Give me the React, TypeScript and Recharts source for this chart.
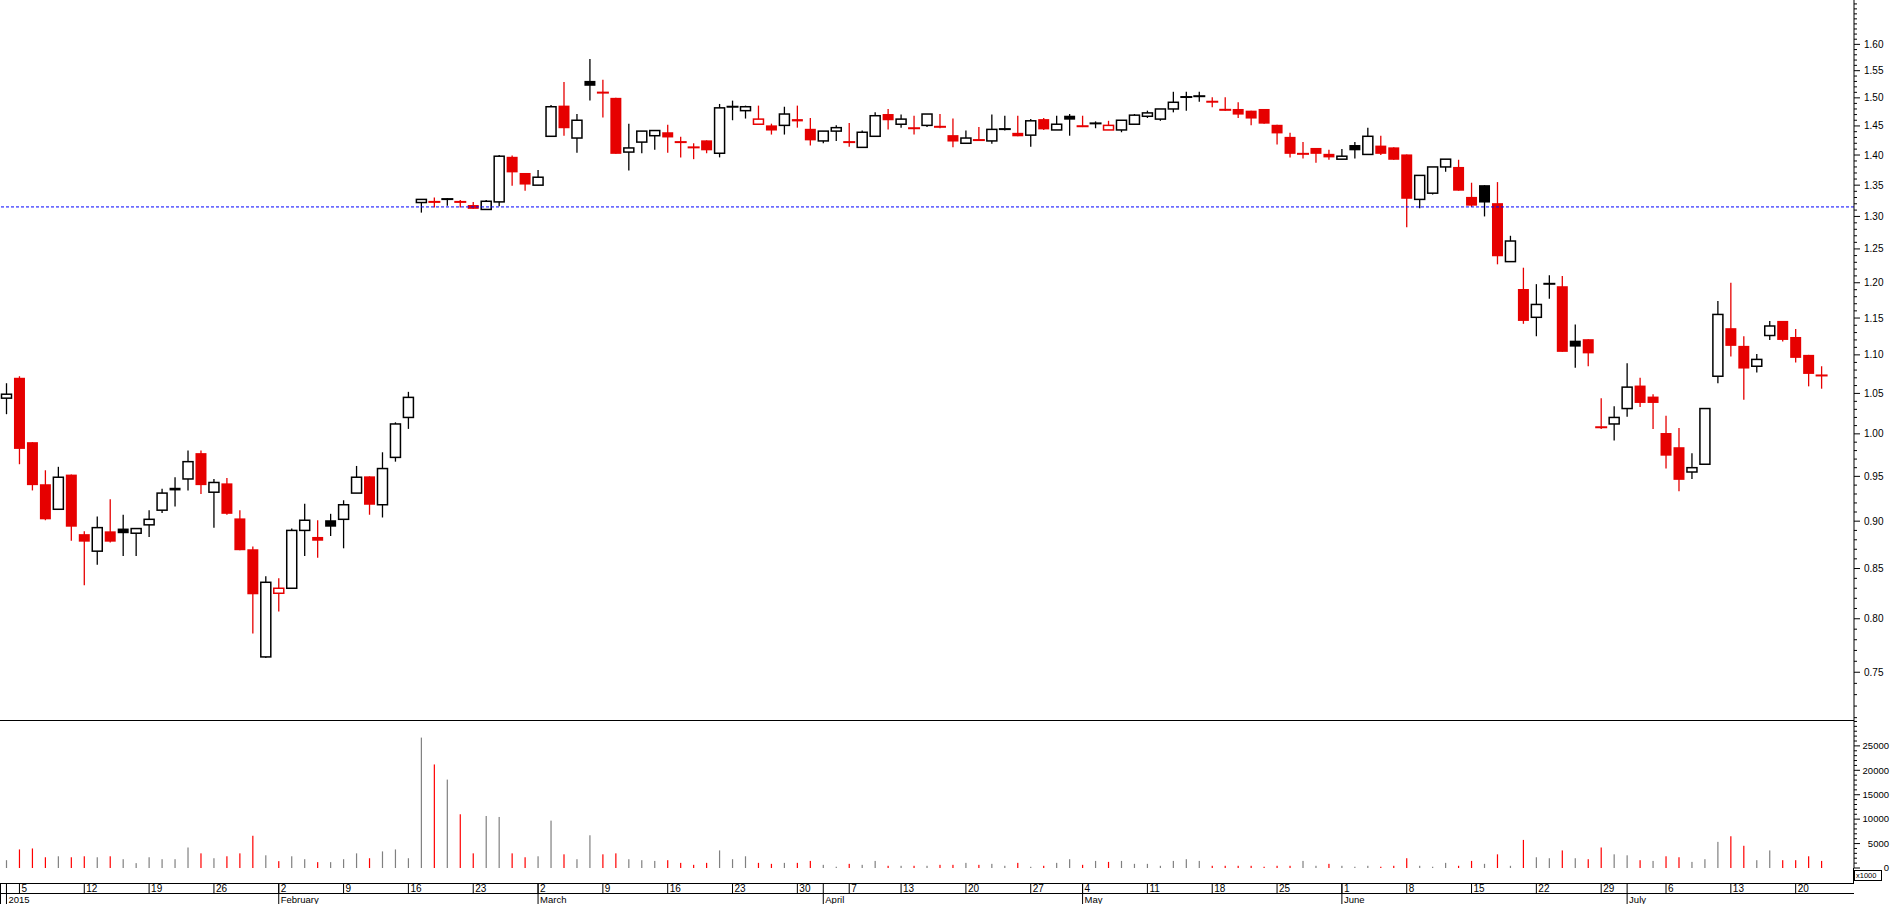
import { Bar, ComposedChart, ReferenceLine, XAxis, YAxis } from "recharts";

// trading days shown on the category axis (last two are still empty)
const tradingDays = [
  "2015-01-02", "2015-01-05", "2015-01-06", "2015-01-07", "2015-01-08", "2015-01-09", "2015-01-12", "2015-01-13",
  "2015-01-14", "2015-01-15", "2015-01-16", "2015-01-19", "2015-01-20", "2015-01-21", "2015-01-22", "2015-01-23",
  "2015-01-26", "2015-01-27", "2015-01-28", "2015-01-29", "2015-01-30",
  "2015-02-02", "2015-02-03", "2015-02-04", "2015-02-05", "2015-02-06", "2015-02-09", "2015-02-10", "2015-02-11",
  "2015-02-12", "2015-02-13", "2015-02-16", "2015-02-17", "2015-02-18", "2015-02-19", "2015-02-20", "2015-02-23",
  "2015-02-24", "2015-02-25", "2015-02-26", "2015-02-27",
  "2015-03-02", "2015-03-03", "2015-03-04", "2015-03-05", "2015-03-06", "2015-03-09", "2015-03-10", "2015-03-11",
  "2015-03-12", "2015-03-13", "2015-03-16", "2015-03-17", "2015-03-18", "2015-03-19", "2015-03-20", "2015-03-23",
  "2015-03-24", "2015-03-25", "2015-03-26", "2015-03-27", "2015-03-30", "2015-03-31",
  "2015-04-01", "2015-04-02", "2015-04-07", "2015-04-08", "2015-04-09", "2015-04-10", "2015-04-13", "2015-04-14",
  "2015-04-15", "2015-04-16", "2015-04-17", "2015-04-20", "2015-04-21", "2015-04-22", "2015-04-23", "2015-04-24",
  "2015-04-27", "2015-04-28", "2015-04-29", "2015-04-30",
  "2015-05-04", "2015-05-05", "2015-05-06", "2015-05-07", "2015-05-08", "2015-05-11", "2015-05-12", "2015-05-13",
  "2015-05-14", "2015-05-15", "2015-05-18", "2015-05-19", "2015-05-20", "2015-05-21", "2015-05-22", "2015-05-25",
  "2015-05-26", "2015-05-27", "2015-05-28", "2015-05-29",
  "2015-06-01", "2015-06-02", "2015-06-03", "2015-06-04", "2015-06-05", "2015-06-08", "2015-06-09", "2015-06-10",
  "2015-06-11", "2015-06-12", "2015-06-15", "2015-06-16", "2015-06-17", "2015-06-18", "2015-06-19", "2015-06-22",
  "2015-06-23", "2015-06-24", "2015-06-25", "2015-06-26", "2015-06-29", "2015-06-30",
  "2015-07-01", "2015-07-02", "2015-07-03", "2015-07-06", "2015-07-07", "2015-07-08", "2015-07-09", "2015-07-10",
  "2015-07-13", "2015-07-14", "2015-07-15", "2015-07-16", "2015-07-17", "2015-07-20", "2015-07-21", "2015-07-22",
  "2015-07-23", "2015-07-24",
];

const opens = [
  1.044, 1.070, 0.990, 0.941, 0.913, 0.952, 0.886, 0.868, 0.889, 0.892, 0.887, 0.896, 0.912, 0.937, 0.947, 0.977,
  0.932, 0.942, 0.903, 0.870, 0.764, 0.825, 0.830, 0.890, 0.883, 0.901, 0.902, 0.931, 0.950, 0.918, 0.972, 1.020,
  1.322, 1.323, 1.326, 1.323, 1.318, 1.311, 1.323, 1.397, 1.370, 1.350, 1.432, 1.486, 1.429, 1.531, 1.511, 1.500,
  1.405, 1.422, 1.433, 1.439, 1.422, 1.413, 1.425, 1.403, 1.485, 1.477, 1.453, 1.451, 1.451, 1.462, 1.445, 1.424,
  1.441, 1.422, 1.413, 1.432, 1.471, 1.453, 1.446, 1.451, 1.450, 1.434, 1.420, 1.424, 1.424, 1.443, 1.438, 1.434,
  1.462, 1.443, 1.468, 1.448, 1.455, 1.443, 1.443, 1.453, 1.467, 1.462, 1.480, 1.502, 1.504, 1.493, 1.480, 1.480,
  1.477, 1.480, 1.452, 1.431, 1.402, 1.412, 1.402, 1.393, 1.417, 1.401, 1.416, 1.413, 1.401, 1.327, 1.337, 1.380,
  1.380, 1.331, 1.350, 1.321, 1.231, 1.191, 1.151, 1.199, 1.195, 1.119, 1.121, 1.008, 1.012, 1.031, 1.060, 1.046,
  1.001, 0.984, 0.955, 0.964, 1.072, 1.136, 1.112, 1.085, 1.126, 1.146, 1.124, 1.100, 1.072,
];

const highs = [
  1.063, 1.072, 0.990, 0.957, 0.961, 0.952, 0.889, 0.905, 0.924, 0.907, 0.892, 0.912, 0.936, 0.949, 0.980, 0.980,
  0.947, 0.948, 0.912, 0.873, 0.842, 0.840, 0.892, 0.919, 0.901, 0.908, 0.923, 0.962, 0.950, 0.978, 1.014, 1.052,
  1.327, 1.330, 1.329, 1.326, 1.323, 1.326, 1.400, 1.399, 1.370, 1.375, 1.487, 1.529, 1.471, 1.572, 1.533, 1.500,
  1.454, 1.441, 1.442, 1.452, 1.431, 1.420, 1.425, 1.489, 1.495, 1.486, 1.486, 1.454, 1.484, 1.486, 1.464, 1.441,
  1.451, 1.455, 1.442, 1.474, 1.480, 1.470, 1.468, 1.471, 1.471, 1.463, 1.442, 1.448, 1.470, 1.468, 1.468, 1.462,
  1.464, 1.468, 1.471, 1.468, 1.458, 1.459, 1.460, 1.471, 1.477, 1.480, 1.511, 1.511, 1.511, 1.501, 1.501, 1.492,
  1.477, 1.480, 1.452, 1.438, 1.422, 1.412, 1.409, 1.410, 1.422, 1.447, 1.433, 1.413, 1.401, 1.366, 1.380, 1.393,
  1.392, 1.354, 1.350, 1.355, 1.270, 1.222, 1.198, 1.211, 1.210, 1.141, 1.121, 1.044, 1.034, 1.089, 1.070, 1.049,
  1.022, 1.007, 0.977, 1.031, 1.174, 1.200, 1.125, 1.101, 1.146, 1.146, 1.135, 1.100, 1.085,
];

const lows = [
  1.024, 0.964, 0.934, 0.901, 0.913, 0.879, 0.833, 0.854, 0.877, 0.863, 0.863, 0.883, 0.909, 0.916, 0.934, 0.930,
  0.893, 0.907, 0.869, 0.786, 0.763, 0.807, 0.830, 0.863, 0.861, 0.884, 0.871, 0.931, 0.907, 0.904, 0.967, 1.006,
  1.306, 1.314, 1.317, 1.314, 1.312, 1.311, 1.316, 1.349, 1.341, 1.350, 1.432, 1.433, 1.404, 1.495, 1.465, 1.402,
  1.374, 1.403, 1.409, 1.404, 1.396, 1.393, 1.403, 1.396, 1.460, 1.463, 1.453, 1.435, 1.435, 1.447, 1.416, 1.420,
  1.424, 1.414, 1.413, 1.432, 1.444, 1.447, 1.435, 1.448, 1.446, 1.413, 1.420, 1.424, 1.419, 1.442, 1.432, 1.414,
  1.443, 1.443, 1.433, 1.448, 1.446, 1.443, 1.439, 1.453, 1.464, 1.459, 1.474, 1.477, 1.493, 1.483, 1.477, 1.464,
  1.451, 1.454, 1.418, 1.396, 1.394, 1.387, 1.392, 1.393, 1.394, 1.401, 1.400, 1.392, 1.283, 1.313, 1.335, 1.372,
  1.341, 1.315, 1.300, 1.227, 1.231, 1.142, 1.125, 1.177, 1.104, 1.083, 1.085, 1.006, 0.992, 1.021, 1.033, 1.006,
  0.959, 0.933, 0.947, 0.964, 1.063, 1.098, 1.042, 1.077, 1.120, 1.118, 1.090, 1.059, 1.056,
];

const closes = [
  1.049, 0.982, 0.940, 0.902, 0.949, 0.894, 0.878, 0.893, 0.878, 0.887, 0.892, 0.902, 0.931, 0.934, 0.967, 0.940,
  0.943, 0.908, 0.869, 0.824, 0.836, 0.830, 0.890, 0.901, 0.879, 0.894, 0.918, 0.949, 0.918, 0.959, 1.012, 1.045,
  1.327, 1.323, 1.329, 1.323, 1.312, 1.324, 1.398, 1.371, 1.351, 1.363, 1.484, 1.446, 1.460, 1.522, 1.508, 1.402,
  1.412, 1.441, 1.442, 1.430, 1.422, 1.413, 1.408, 1.482, 1.483, 1.484, 1.462, 1.442, 1.471, 1.458, 1.425, 1.441,
  1.447, 1.422, 1.439, 1.468, 1.460, 1.462, 1.446, 1.471, 1.447, 1.423, 1.429, 1.427, 1.444, 1.446, 1.432, 1.459,
  1.444, 1.453, 1.461, 1.451, 1.454, 1.451, 1.460, 1.469, 1.473, 1.480, 1.492, 1.501, 1.502, 1.493, 1.477, 1.470,
  1.463, 1.454, 1.437, 1.402, 1.402, 1.402, 1.396, 1.398, 1.408, 1.432, 1.402, 1.392, 1.328, 1.366, 1.380, 1.393,
  1.341, 1.317, 1.322, 1.239, 1.262, 1.146, 1.169, 1.198, 1.104, 1.111, 1.102, 1.008, 1.020, 1.058, 1.038, 1.038,
  0.974, 0.946, 0.960, 1.031, 1.155, 1.112, 1.082, 1.094, 1.139, 1.120, 1.096, 1.075, 1.074,
];

// volume in thousands of shares
const volumes = [
  1600, 3800, 4000, 2200, 2400, 2200, 2400, 2200, 2400, 1800, 1000, 2200, 1800, 1800, 4200, 3000,
  2000, 2400, 3000, 6600, 2600, 1400, 2400, 1800, 1200, 1200, 1800, 3000, 2000, 3400, 3800, 2000,
  26700, 21200, 18100, 11000, 3000, 10650, 10450, 3000, 2200, 2400, 9700, 2800, 1800, 6700, 2800, 3000,
  1800, 1600, 1450, 1600, 1050, 650, 1050, 3600, 1800, 2400, 1050, 850, 1050, 1050, 1450, 650,
  260, 850, 650, 1450, 450, 450, 450, 450, 650, 650, 1050, 650, 850, 450, 1050, 250,
  450, 1050, 1800, 650, 1450, 1250, 1450, 850, 850, 450, 1450, 1800, 1450, 450, 450, 450,
  450, 260, 450, 450, 1450, 450, 850, 450, 260, 450, 260, 450, 2000, 450, 260, 1050,
  450, 1450, 850, 2800, 450, 5750, 2200, 2000, 3600, 2000, 1800, 4200, 2800, 2600, 1600, 1450,
  2400, 2200, 1250, 1800, 5350, 6500, 4550, 1600, 3600, 1600, 1600, 2400, 1450,
];

const priceLabels = [
  "0.75", "0.80", "0.85", "0.90", "0.95", "1.00", "1.05", "1.10", "1.15", "1.20",
  "1.25", "1.30", "1.35", "1.40", "1.45", "1.50", "1.55", "1.60",
];
const volumeLabels = ["0", "5000", "10000", "15000", "20000", "25000"];
const monthNames = ["2015", "February", "March", "April", "May", "June", "July"];
const supportLevel = 1.315;

const RED = "#e60000";
const INK = "#000000";
const VOL_RED = "#ff0000";
const VOL_GREY = "#808080";

const priceTicks = Array.from({ length: 98 }, (_, k) => (71 + k) / 100);
const volumeTicks = Array.from({ length: 31 }, (_, k) => k * 1000);

const DAY = 864e5;
const rows = tradingDays.map((date, i) => {
  const d = new Date(date + "T00:00:00Z");
  const p = i > 0 ? new Date(tradingDays[i - 1] + "T00:00:00Z") : null;
  const weekStart = !p || d.getUTCDay() < p.getUTCDay() || d.getTime() - p.getTime() > 6 * DAY;
  const monthStart = !p || d.getUTCMonth() !== p.getUTCMonth();
  const base = { date, weekStart, monthStart, day: d.getUTCDate(), month: d.getUTCMonth() };
  if (i >= closes.length) return base;
  const prevClose = i > 0 ? closes[i - 1] : opens[i];
  return {
    ...base,
    open: opens[i],
    high: highs[i],
    low: lows[i],
    close: closes[i],
    range: [lows[i], highs[i]],
    volume: volumes[i],
    color: i > 0 && closes[i] <= prevClose ? RED : INK,
    volColor: closes[i] < prevClose ? VOL_RED : VOL_GREY,
  };
});

function Candle(props: any) {
  const { x, y, width, height, payload } = props;
  if (!payload || payload.close == null || !Number.isFinite(y) || !Number.isFinite(height)) return null;
  const { open, close, high, low, color } = payload;
  // the axis is logarithmic, so place open/close on ln between the high and low the bar got
  const span = Math.log(high) - Math.log(low);
  const toY = (v: number) => (span > 0 ? y + (height * (Math.log(high) - Math.log(v))) / span : y);
  const cx = x + width / 2;
  const top = toY(Math.max(open, close));
  const bottom = toY(Math.min(open, close));
  const wick = <line x1={cx} x2={cx} y1={y} y2={y + height} stroke={color} strokeWidth={1.3} />;
  if (bottom - top < 2) {
    const mid = (top + bottom) / 2;
    return (
      <g>
        {wick}
        <rect x={cx - 6} y={mid - 1} width={12} height={2} fill={color} />
      </g>
    );
  }
  if (close > open) {
    return (
      <g>
        {wick}
        <rect x={cx - 5} y={top} width={10} height={bottom - top} fill="#fff" stroke={color} strokeWidth={1.5} />
      </g>
    );
  }
  return (
    <g>
      {wick}
      <rect x={cx - 5.5} y={top} width={11} height={bottom - top} fill={color} />
    </g>
  );
}

function VolumeBar(props: any) {
  const { x, y, width, height, payload } = props;
  if (!payload || payload.volume == null || !(height > 0)) return null;
  return <rect x={x + width / 2 - 0.6} y={y} width={1.2} height={height} fill={payload.volColor} />;
}

function PriceTick(props: any) {
  const { x, y, payload } = props;
  const axisX = x - 9;
  const label = priceLabels.find((l) => Math.abs(parseFloat(l) - payload.value) < 1e-6);
  return (
    <g>
      <line x1={axisX} x2={axisX + (label ? 6 : 3)} y1={y} y2={y} stroke="#000" />
      {label && (
        <text x={axisX + 10} y={y} dy="0.35em" fontSize={10} fill="#000">
          {label}
        </text>
      )}
    </g>
  );
}

function VolumeTick(props: any) {
  const { x, y, payload } = props;
  const axisX = x - 9;
  const label = volumeLabels.find((l) => Number(l) === payload.value);
  return (
    <g>
      <line x1={axisX} x2={axisX + (label ? 6 : 3)} y1={y} y2={y} stroke="#000" />
      {label && (
        <text x={axisX + 35} y={y} dy="0.35em" fontSize={9.5} fill="#000" textAnchor="end">
          {label}
        </text>
      )}
    </g>
  );
}

const ROW1 = 163;
const ROW2 = 173;
const ROW_END = 184;

function DateTick(props: any) {
  const { x, payload } = props;
  const row: any = rows.find((r) => r.date === payload.value);
  if (!row) return null;
  return (
    <g>
      {row.weekStart && <line x1={x} x2={x} y1={ROW1} y2={ROW2} stroke="#000" />}
      {row.weekStart && row.date !== tradingDays[0] && (
        <text x={x + 2} y={ROW2 - 1.5} fontSize={10} fill="#000">
          {row.day}
        </text>
      )}
      {row.monthStart && <line x1={x} x2={x} y1={ROW1} y2={ROW_END} stroke="#000" />}
      {row.monthStart && (
        <text x={x + 2} y={ROW_END - 1.5} fontSize={9.5} fill="#000">
          {monthNames[row.month]}
        </text>
      )}
    </g>
  );
}

const hLine = (top: number, width: number) => (
  <div style={{ position: "absolute", left: 0, top, width, height: 1, background: "#000" }} />
);

export default function App() {
  return (
    <div
      style={{
        position: "absolute",
        left: 0,
        top: 0,
        width: 1890,
        height: 904,
        overflow: "hidden",
        background: "#fff",
        fontFamily: '"Liberation Sans", Arial, sans-serif',
      }}
    >
      <ComposedChart width={1890} height={720} data={rows} margin={{ top: 0, right: 0, bottom: 0, left: 0 }} barCategoryGap={0} barGap={0}>
        <XAxis dataKey="date" hide />
        <YAxis
          orientation="right"
          type="number"
          scale="log"
          domain={[0.708, 1.688]}
          allowDataOverflow
          ticks={priceTicks}
          interval={0}
          width={36}
          tickSize={6}
          tickMargin={3}
          tickLine={false}
          axisLine={{ stroke: "#000" }}
          tick={(p: any) => <PriceTick {...p} />}
        />
        <Bar dataKey="range" shape={(p: any) => <Candle {...p} />} isAnimationActive={false} />
        <ReferenceLine y={supportLevel} stroke="#0000ff" strokeDasharray="3 2" strokeWidth={1} />
      </ComposedChart>

      <div style={{ position: "absolute", left: 0, top: 720 }}>
        <ComposedChart width={1890} height={184} data={rows} margin={{ top: 0, right: 0, bottom: 0, left: 0 }} barCategoryGap={0} barGap={0}>
          <XAxis
            dataKey="date"
            height={36}
            interval={0}
            axisLine={false}
            tickLine={false}
            tick={(p: any) => <DateTick {...p} />}
          />
          <YAxis
            orientation="right"
            type="number"
            domain={[0, 30300]}
            allowDataOverflow
            ticks={volumeTicks}
            interval={0}
            width={36}
            tickSize={6}
            tickMargin={3}
            tickLine={false}
            axisLine={{ stroke: "#000" }}
            tick={(p: any) => <VolumeTick {...p} />}
          />
          <Bar dataKey="volume" shape={(p: any) => <VolumeBar {...p} />} isAnimationActive={false} />
        </ComposedChart>
      </div>

      {hLine(720, 1854)}
      {hLine(883, 1854)}
      {hLine(893, 1854)}
      <div style={{ position: "absolute", left: 0, top: 883, width: 1, height: 21, background: "#000" }} />
      <div style={{ position: "absolute", left: 1853, top: 868, width: 1, height: 15, background: "#000" }} />
      <div
        style={{
          position: "absolute",
          left: 1854,
          top: 870,
          width: 28,
          height: 11,
          border: "1px solid #000",
          fontSize: 7.5,
          lineHeight: "9px",
          paddingLeft: 1,
          boxSizing: "border-box",
          whiteSpace: "nowrap",
        }}
      >
        x1000
      </div>
    </div>
  );
}
